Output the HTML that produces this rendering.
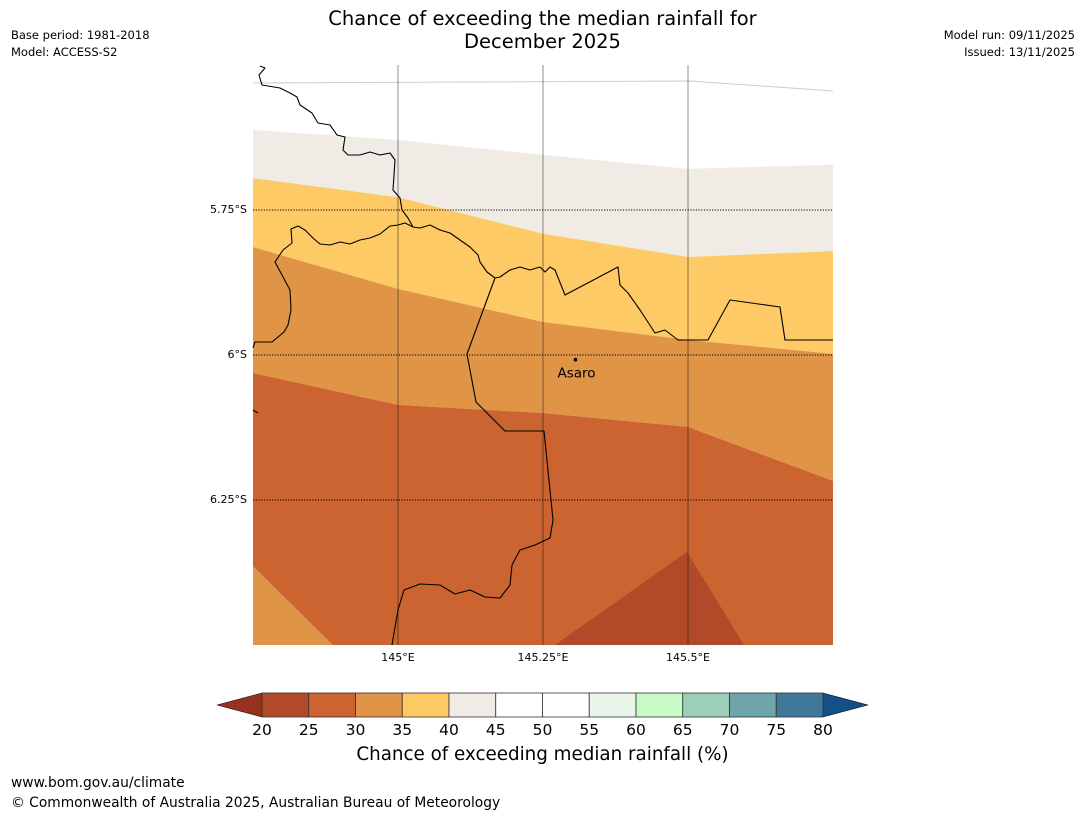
<!DOCTYPE html>
<html><head><meta charset="utf-8"><style>
body{margin:0;background:#fff;font-family:"DejaVu Sans","Liberation Sans",sans-serif;}
#w{position:relative;width:1085px;height:816px;overflow:hidden}
.t{position:absolute;white-space:nowrap;color:#000}
</style></head><body><div id="w">
<div class="t" style="left:0;width:1085px;text-align:center;top:7px;font-size:19.5px;line-height:23px">Chance of exceeding the median rainfall for<br>December 2025</div>
<div class="t" style="left:11px;top:27px;font-size:11.5px;line-height:17px">Base period: 1981-2018<br>Model: ACCESS-S2</div>
<div class="t" style="right:10px;top:27px;font-size:11.5px;line-height:17px;text-align:right">Model run: 09/11/2025<br>Issued: 13/11/2025</div>
<svg id="s" width="1085" height="816" style="position:absolute;left:0;top:0"></svg>
<div class="t" style="left:0;width:1085px;text-align:center;top:744px;font-size:18.3px">Chance of exceeding median rainfall (%)</div>
<div class="t" style="left:11px;top:775px;font-size:13.8px">www.bom.gov.au/climate</div>
<div class="t" style="left:11px;top:795px;font-size:13.8px">© Commonwealth of Australia 2025, Australian Bureau of Meteorology</div>
</div>
<script>
// data
const lonTicks=[145,145.25,145.5];
const lonLabels=["145°E","145.25°E","145.5°E"];
const latTicks=[5.75,6,6.25];
const latLabels=["5.75°S","6°S","6.25°S"];
const bLons=[144.75,145,145.25,145.5,145.75];
const b40=[5.612,5.629,5.655,5.679,5.672];
const b35=[5.695,5.728,5.791,5.831,5.821];
const b30=[5.814,5.886,5.943,5.974,5.998];
const b25=[6.031,6.086,6.1,6.124,6.217];
const cbLevels=[20,25,30,35,40,45,50,55,60,65,70,75,80];
const cbColors=["#b04a28","#cb6431","#e09445","#fdca65","#f0ebe5","#ffffff","#ffffff","#eaf5ea","#c8fac8","#9ccfb8","#6ea5a8","#3f7899"];
// axes
const X0=253,X1=833,Y0=65,Y1=645;
const lonMin=144.75,lonMax=145.75,latMin=5.5,latMax=6.5;
const xs=l=>X0+(l-lonMin)/(lonMax-lonMin)*(X1-X0);
const ys=l=>Y0+(l-latMin)/(latMax-latMin)*(Y1-Y0);
const NS="http://www.w3.org/2000/svg",s=document.getElementById('s');
function mk(t,a,p){const e=document.createElementNS(NS,t);for(const k in a)e.setAttribute(k,a[k]);(p||s).appendChild(e);return e;}
const g=mk('g',{});


function band(top,bot,col,name){
  let d='M'+bLons.map((l,i)=>xs(l)+','+(top?ys(top[i]):Y0)).join('L');
  const bb=bLons.slice().reverse();
  d+='L'+bb.map((l,i)=>xs(l)+','+(bot?ys(bot[bLons.length-1-i]):Y1)).join('L')+'Z';
  const e=mk('path',{d:d,fill:col},g);
  
  
}
band(null,b40,'#ffffff','band-45-55');
band(b40,b35,'#f0ebe5','band-40-45');
band(b35,b30,'#fdca65','band-35-40');
band(b30,b25,'#e09445','band-30-35');
band(b25,null,'#cb6431','band-25-30');
let e=mk('path',{d:'M253,566L333,645L253,645Z',fill:'#e09445'},g);


e=mk('path',{d:'M555,645L687,552L744,645Z',fill:'#b04a28'},g);


mk('path',{d:'M253,83L690,81L833,91',fill:'none',stroke:'#ccc','stroke-width':1},g);
// borders
const coast='M260,66L265,68L259,75L262,85L280,88L290,93L297,97L300,105L312,113L318,123L330,125L337,135L345,137L343,150L348,155L360,155L370,152L380,155L390,153L395,160L394,175L393,190L400,198L402,210L408,218L413,227L420,228L430,225L440,230L450,233L460,240L470,247L478,255L480,262L487,272L495,278L500,277L510,270L520,267L530,270L540,267L545,272L550,267L555,270L565,295L618,267L620,285L628,293L640,310L655,333L665,330L678,340L708,340L730,300L780,307L785,340L833,340';
const west='M413,227L405,223L398,225L390,226L380,234L370,238L360,240L350,244L340,242L330,245L320,244L313,238L305,230L298,226L291,229L292,243L283,250L275,262L282,275L290,290L291,310L288,325L284,332L272,342L255,342L253,348';
const inner='M495,278L467,354L476,402L505,431L544,431L553,520L550,538L535,545L520,550L512,565L510,585L500,598L485,597L470,590L455,594L440,585L420,584L404,590L398,610L392,645';
[coast,west,inner,'M253,410L258,413'].forEach((d,i)=>{const p=mk('path',{d:d,fill:'none',stroke:'#000','stroke-width':1.1,'stroke-linejoin':'round'},g);

});
// gridlines
lonTicks.forEach((l,i)=>{const x=xs(l);
  mk('line',{x1:x,x2:x,y1:Y0,y2:Y1,stroke:'#000','stroke-opacity':0.4,'stroke-width':1.1},g);
  const t=mk('text',{x:x,y:661,'font-size':11,'text-anchor':'middle','font-family':'DejaVu Sans,Liberation Sans,sans-serif'});t.textContent=lonLabels[i];
  
  });
latTicks.forEach((l,i)=>{const y=ys(l);
  mk('line',{x1:X0,x2:X1,y1:y,y2:y,stroke:'#000','stroke-width':1,'stroke-dasharray':'1.2,1.5'},g);
  const t=mk('text',{x:247,y:y+3,'font-size':11,'text-anchor':'end','font-family':'DejaVu Sans,Liberation Sans,sans-serif'});t.textContent=latLabels[i];
  
  });
// Asaro
const ax=xs(145.306),ay=ys(6.008);
e=mk('circle',{cx:ax,cy:ay,r:1.8,fill:'#000'});


e=mk('text',{x:ax-18,y:ay+18,'font-size':13.5,'font-family':'DejaVu Sans,Liberation Sans,sans-serif'});e.textContent='Asaro';


// colorbar
const C0=262,C1=823,CT=693,CB=717;
const cx=v=>C0+(v-cbLevels[0])/(cbLevels[cbLevels.length-1]-cbLevels[0])*(C1-C0);
e=mk('path',{d:`M${C0},${CT}L217,705L${C0},${CB}Z`,fill:'#98321f',stroke:'#000','stroke-width':0.5});


e=mk('path',{d:`M${C1},${CT}L868,705L${C1},${CB}Z`,fill:'#144f88',stroke:'#000','stroke-width':0.5});


cbColors.forEach((c,i)=>{const r=mk('rect',{x:cx(cbLevels[i]),y:CT,width:cx(cbLevels[i+1])-cx(cbLevels[i]),height:CB-CT,fill:c,stroke:'#333','stroke-width':0.8});
  
  });
cbLevels.forEach(v=>{const t=mk('text',{x:cx(v),y:735,'font-size':15.5,'text-anchor':'middle','font-family':'DejaVu Sans,Liberation Sans,sans-serif'});t.textContent=v;
  
  });
</script></body></html>
